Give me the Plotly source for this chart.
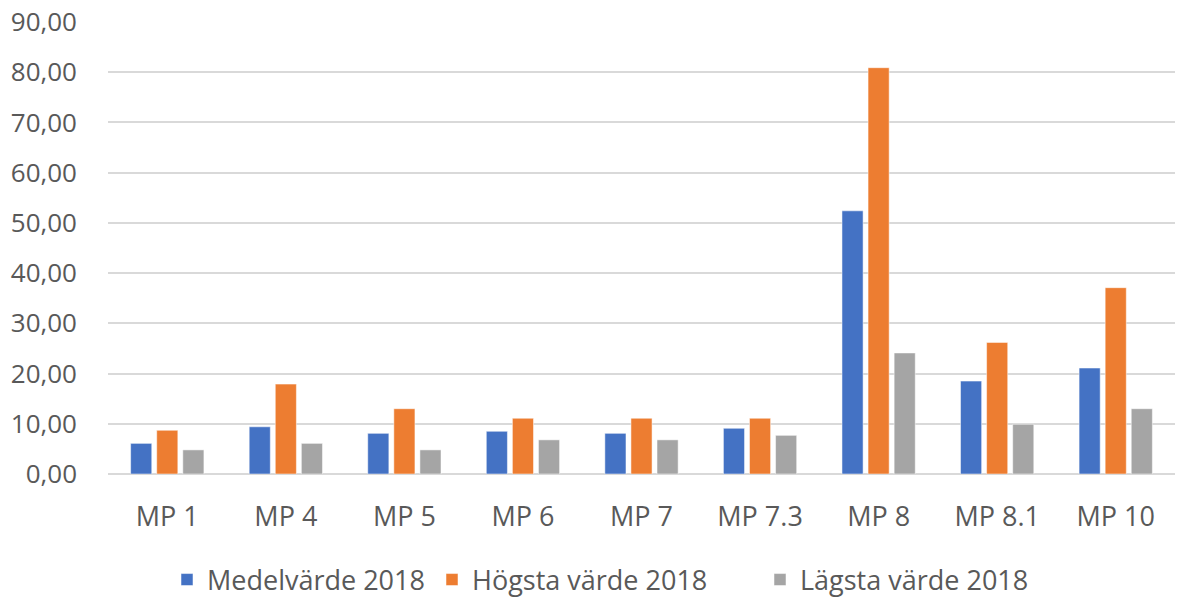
import plotly.graph_objects as go

categories = ["MP 1", "MP 4", "MP 5", "MP 6", "MP 7", "MP 7.3", "MP 8", "MP 8.1", "MP 10"]
medel_2018 = [6.1, 9.4, 8.1, 8.5, 8.1, 9.1, 52.4, 18.5, 21.1]
hogsta_2018 = [8.7, 17.9, 13.0, 11.1, 11.1, 11.1, 80.9, 26.2, 37.1]
lagsta_2018 = [4.8, 6.1, 4.8, 6.8, 6.8, 7.7, 24.1, 9.9, 13.0]

series = [
    ("Medelvärde 2018", medel_2018, "#4472C4", "legend"),
    ("Högsta värde 2018", hogsta_2018, "#ED7D31", "legend2"),
    ("Lägsta värde 2018", lagsta_2018, "#A5A5A5", "legend3"),
]

fig = go.Figure()
for name, vals, color, leg in series:
    fig.add_trace(go.Bar(
        x=categories, y=vals, name=name, legend=leg,
        marker=dict(color=color, line=dict(color="rgba(255,255,255,0.5)", width=1)),
    ))

W, L, R, T, B = 1180, 108, 5, 22, 129
plot_w = W - L - R
plot_h = 603 - T - B


def legend_at(text_x):
    return dict(orientation="h", x=(text_x - 40 - L) / plot_w, xanchor="left",
                y=-(580 - (T + plot_h)) / plot_h, yanchor="middle",
                font=dict(size=27, color="#595959"), itemwidth=30,
                bgcolor="rgba(0,0,0,0)")


fig.update_layout(
    width=W, height=603,
    paper_bgcolor="white", plot_bgcolor="white",
    margin=dict(l=L, r=R, t=T, b=B, autoexpand=False),
    barmode="group", bargap=0.34, bargroupgap=0.19,
    separators=", ",
    font=dict(family="Open Sans", size=26, color="#595959"),
    showlegend=True,
    legend=legend_at(207),
    legend2=legend_at(472),
    legend3=legend_at(800),
    xaxis=dict(showgrid=False, showline=False, ticks="", ticklabelstandoff=24,
               tickfont=dict(size=27), automargin=False),
    yaxis=dict(range=[0, 90], dtick=10, tickformat=".2f", showgrid=True,
               gridcolor="#D9D9D9", gridwidth=2, zeroline=True, zerolinecolor="#D9D9D9",
               zerolinewidth=2, showline=False, ticks="", ticklabelstandoff=30,
               tickfont=dict(size=26), automargin=False, ticklabeloverflow="allow"),
)

fig.write_html("out.html", config={"displayModeBar": False},
               post_script="document.body.style.margin='0px';")
